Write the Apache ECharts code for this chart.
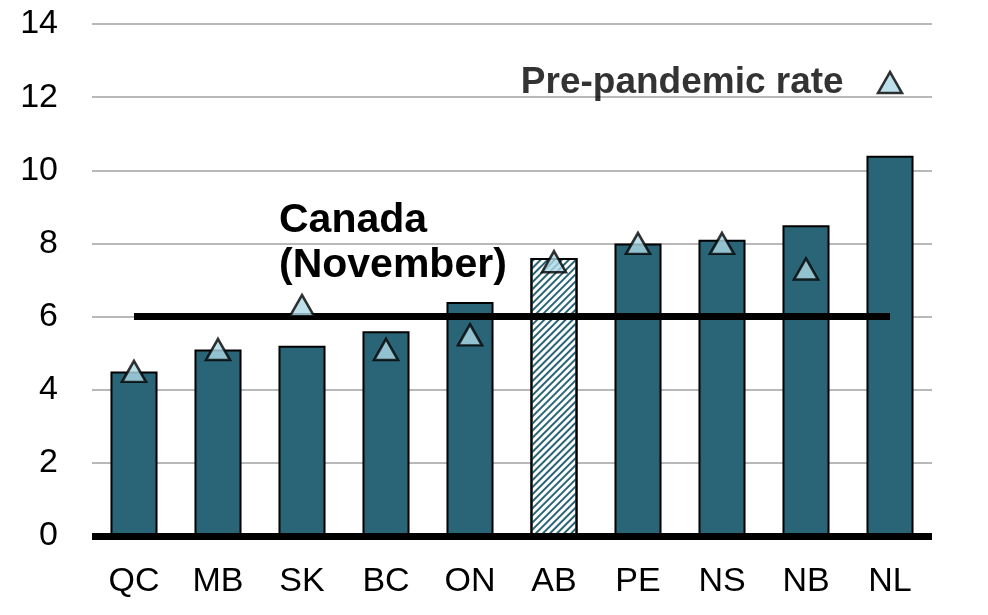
<!DOCTYPE html>
<html><head><meta charset="utf-8">
<script src="https://cdn.jsdelivr.net/npm/echarts@6/dist/echarts.min.js"></script>
<style>html,body{margin:0;padding:0;background:#fff}#c{width:988px;height:615px}</style>
</head><body><div id="c"></div>
<script>
const categories = ['QC','MB','SK','BC','ON','AB','PE','NS','NB','NL'];
const currentRate = [4.5, 5.1, 5.2, 5.6, 6.4, 7.6, 8.0, 8.1, 8.5, 10.4];
const prePandemic = [4.5, 5.1, 6.3, 5.1, 5.5, 7.5, 8.0, 8.0, 7.3, 12.4];
const canadaRate = 6.0;
const hatchedCategory = 'AB';
const yTicks = {min: 0, max: 14, interval: 2};

const FONT = 'Liberation Sans, Arial, sans-serif';
const BAR = '#2a6577';

const barData = currentRate.map((v, i) => {
  if (categories[i] === hatchedCategory) {
    return {value: v, itemStyle: {color: '#ffffff', borderColor: '#000', borderWidth: 2,
      decal: {symbol: 'rect', color: BAR, dashArrayX: [1, 0], dashArrayY: [2, 3], rotation: -Math.PI / 4, symbolSize: 1}}};
  }
  return v;
});

const triData = prePandemic.map((v, i) => {
  if (i === categories.length - 1) {
    return {value: v, label: {show: true, position: 'left', distance: 33, formatter: 'Pre-pandemic rate',
      fontFamily: FONT, fontWeight: 'bold', fontSize: 37, color: '#000'}};
  }
  return v;
});

const chart = echarts.init(document.getElementById('c'), null, {renderer: 'canvas'});
chart.setOption({
  animation: false,
  backgroundColor: '#fff',
  grid: {left: 92, right: 56, top: 24, bottom: 79},
  xAxis: {
    type: 'category', data: categories,
    axisLine: {show: false}, axisTick: {show: false},
    axisLabel: {fontFamily: FONT, fontSize: 34, color: '#000', margin: 29}
  },
  yAxis: {
    type: 'value', min: yTicks.min, max: yTicks.max, interval: yTicks.interval,
    axisLine: {show: false}, axisTick: {show: false},
    splitLine: {lineStyle: {color: '#a0a0a0', width: 1.5}},
    axisLabel: {fontFamily: FONT, fontSize: 34, color: '#000', margin: 34}
  },
  series: [
    {
      type: 'bar', data: barData, barWidth: '56%', z: 2,
      itemStyle: {color: BAR, borderColor: '#000', borderWidth: 2},
      markLine: {
        silent: true, symbol: 'none', label: {show: false},
        lineStyle: {color: '#000', width: 7, type: 'solid'},
        data: [{yAxis: 0}]
      }
    },
    {
      type: 'line', name: 'Canada (November)', data: categories.map(() => canadaRate),
      symbol: 'none', z: 3,
      lineStyle: {color: '#000', width: 7}
    },
    {
      type: 'scatter', name: 'Pre-pandemic rate', data: triData, z: 5,
      symbol: 'triangle', symbolSize: [24, 21],
      itemStyle: {color: '#add8e6', borderColor: '#000', borderWidth: 2.5}
    }
  ],
  graphic: [{
    type: 'text', left: 279, top: 198,
    style: {text: 'Canada\n(November)', fontFamily: FONT, fontWeight: 'bold', fontSize: 41,
      lineHeight: 45, fill: '#000', textAlign: 'left'}
  }]
});
</script></body></html>
